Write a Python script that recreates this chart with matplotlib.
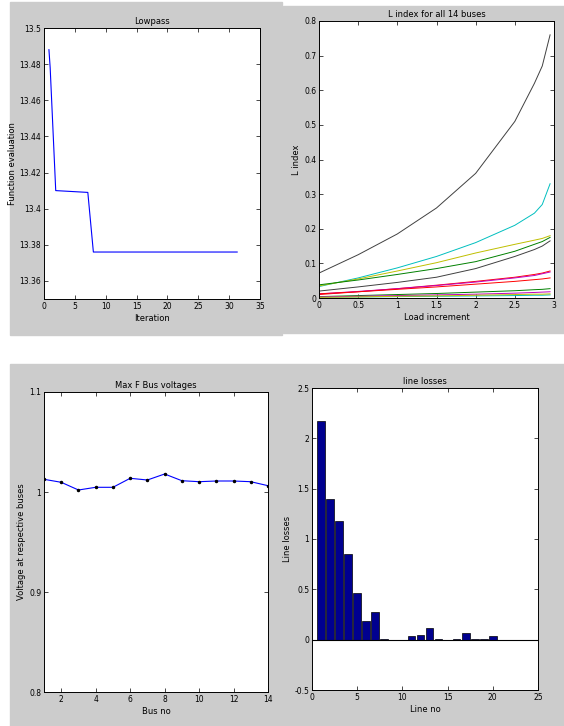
import numpy as np
import matplotlib
matplotlib.use("Agg")
import matplotlib.pyplot as plt
from matplotlib.patches import Rectangle

# --- data -------------------------------------------------------------
# panel 1: convergence of objective
iter_x = [0.8, 1.0, 1.9, 7.1, 8.0, 31.3]
obj_y = [13.488, 13.478, 13.410, 13.409, 13.376, 13.376]

# panel 2: L index for the 14 buses vs load increment
load_x = [0, 0.5, 1, 1.5, 2, 2.5, 2.75, 2.85, 2.95]
lidx = [
    [0, 0, 0, 0, 0, 0, 0, 0, 0],
    [0.004, 0.007, 0.010, 0.013, 0.017, 0.021, 0.024, 0.025, 0.027],
    [0.010, 0.018, 0.027, 0.037, 0.048, 0.060, 0.068, 0.072, 0.078],
    [0.033, 0.058, 0.087, 0.120, 0.160, 0.210, 0.245, 0.270, 0.330],
    [0.012, 0.019, 0.027, 0.036, 0.046, 0.058, 0.065, 0.070, 0.075],
    [0.035, 0.055, 0.078, 0.102, 0.130, 0.155, 0.167, 0.172, 0.180],
    [0.072, 0.125, 0.185, 0.260, 0.360, 0.510, 0.620, 0.670, 0.760],
    [0, 0, 0, 0, 0, 0, 0, 0, 0],
    [0.038, 0.052, 0.068, 0.085, 0.105, 0.135, 0.155, 0.163, 0.175],
    [0.012, 0.018, 0.025, 0.032, 0.040, 0.048, 0.053, 0.055, 0.058],
    [0.002, 0.003, 0.004, 0.005, 0.006, 0.007, 0.008, 0.008, 0.009],
    [0.003, 0.005, 0.007, 0.009, 0.011, 0.014, 0.016, 0.017, 0.018],
    [0.002, 0.003, 0.005, 0.006, 0.008, 0.010, 0.011, 0.011, 0.012],
    [0.020, 0.032, 0.045, 0.060, 0.085, 0.120, 0.140, 0.150, 0.165],
]
line_cols = [(0, 0, 1), (0, 0.5, 0), (1, 0, 0), (0, 0.75, 0.75), (0.75, 0, 0.75),
             (0.75, 0.75, 0), (0.25, 0.25, 0.25)]

# panel 3: bus voltages
bus_x = list(range(1, 15))
volt_y = [1.0127, 1.0097, 1.002, 1.0047, 1.0047, 1.0137, 1.012,
          1.018, 1.0113, 1.0103, 1.011, 1.011, 1.0103, 1.0063]

# panel 4: line losses
line_x = list(range(1, 21))
loss_y = [2.175, 1.40, 1.175, 0.854, 0.464, 0.19, 0.27, 0.005, 0.0, 0.0,
          0.04, 0.05, 0.12, 0.005, 0.0, 0.01, 0.066, 0.005, 0.005, 0.04]

# --- figure -----------------------------------------------------------
W, H = 564, 726
fig = plt.figure(figsize=(W / 100, H / 100), dpi=100, facecolor="white")
gray = (0.8, 0.8, 0.8)

def panel(x0, y0, x1, y1):
    fig.patches.append(Rectangle((x0 / W, 1 - y1 / H), (x1 - x0) / W, (y1 - y0) / H,
                                 transform=fig.transFigure, color=gray, zorder=-10))

panel(10, 2, 282, 335)
panel(283, 6, 564, 333)
panel(10, 364, 564, 726)

def mkax(l, r, t, b):
    ax = fig.add_axes([l / W, 1 - b / H, (r - l) / W, (b - t) / H])
    ax.tick_params(direction="in", top=True, right=True, length=3, width=0.5,
                   labelsize=5.5, pad=2)
    for s in ax.spines.values():
        s.set_linewidth(0.7)
    return ax

fs = 6

ax1 = mkax(44, 260, 28, 299)
ax1.plot(iter_x, obj_y, color="blue", lw=0.8)
ax1.set_xlim(0, 35)
ax1.set_ylim(13.35, 13.5)
ax1.set_xticks(range(0, 36, 5))
ax1.set_yticks([13.36, 13.38, 13.4, 13.42, 13.44, 13.46, 13.48, 13.5])
ax1.set_yticklabels(["13.36", "13.38", "13.4", "13.42", "13.44", "13.46", "13.48", "13.5"])
ax1.set_title("Lowpass", fontsize=fs, pad=3)
ax1.set_xlabel("Iteration", fontsize=fs, labelpad=2)
ax1.set_ylabel("Function evaluation", fontsize=fs, labelpad=2)

ax2 = mkax(319, 554, 21, 298)
for i, ys in enumerate(lidx):
    ax2.plot(load_x, ys, color=line_cols[i % 7], lw=0.7)
ax2.set_xlim(0, 3)
ax2.set_ylim(0, 0.8)
ax2.set_xticks([0, 0.5, 1, 1.5, 2, 2.5, 3])
ax2.set_xticklabels(["0", "0.5", "1", "1.5", "2", "2.5", "3"])
ax2.set_yticks(np.arange(0, 0.81, 0.1))
ax2.set_yticklabels(["0", "0.1", "0.2", "0.3", "0.4", "0.5", "0.6", "0.7", "0.8"])
ax2.set_title("L index for all 14 buses", fontsize=fs, pad=3)
ax2.set_xlabel("Load increment", fontsize=fs, labelpad=2)
ax2.set_ylabel("L index", fontsize=fs, labelpad=2)

ax3 = mkax(44, 268, 392, 692)
ax3.plot(bus_x, volt_y, color="blue", lw=0.8, marker=".", ms=3, mec="k", mfc="k")
ax3.set_xlim(1, 14)
ax3.set_ylim(0.8, 1.1)
ax3.set_xticks(range(2, 15, 2))
ax3.set_yticks([0.8, 0.9, 1.0, 1.1])
ax3.set_yticklabels(["0.8", "0.9", "1", "1.1"])
ax3.set_title("Max F Bus voltages", fontsize=fs, pad=3)
ax3.set_xlabel("Bus no", fontsize=fs, labelpad=2)
ax3.set_ylabel("Voltage at respective buses", fontsize=fs, labelpad=2)

ax4 = mkax(312, 538, 388, 690)
ax4.bar(line_x, loss_y, width=0.85, color=(0, 0, 0.56), edgecolor="k", lw=0.5)
ax4.axhline(0, color="k", lw=0.8)
ax4.set_xlim(0, 25)
ax4.set_ylim(-0.5, 2.5)
ax4.set_xticks(range(0, 26, 5))
ax4.set_yticks([-0.5, 0, 0.5, 1, 1.5, 2, 2.5])
ax4.set_yticklabels(["-0.5", "0", "0.5", "1", "1.5", "2", "2.5"])
ax4.set_title("line losses", fontsize=fs, pad=3)
ax4.set_xlabel("Line no", fontsize=fs, labelpad=2)
ax4.set_ylabel("Line losses", fontsize=fs, labelpad=2)

fig.savefig("out.png", dpi=100, facecolor="white")
